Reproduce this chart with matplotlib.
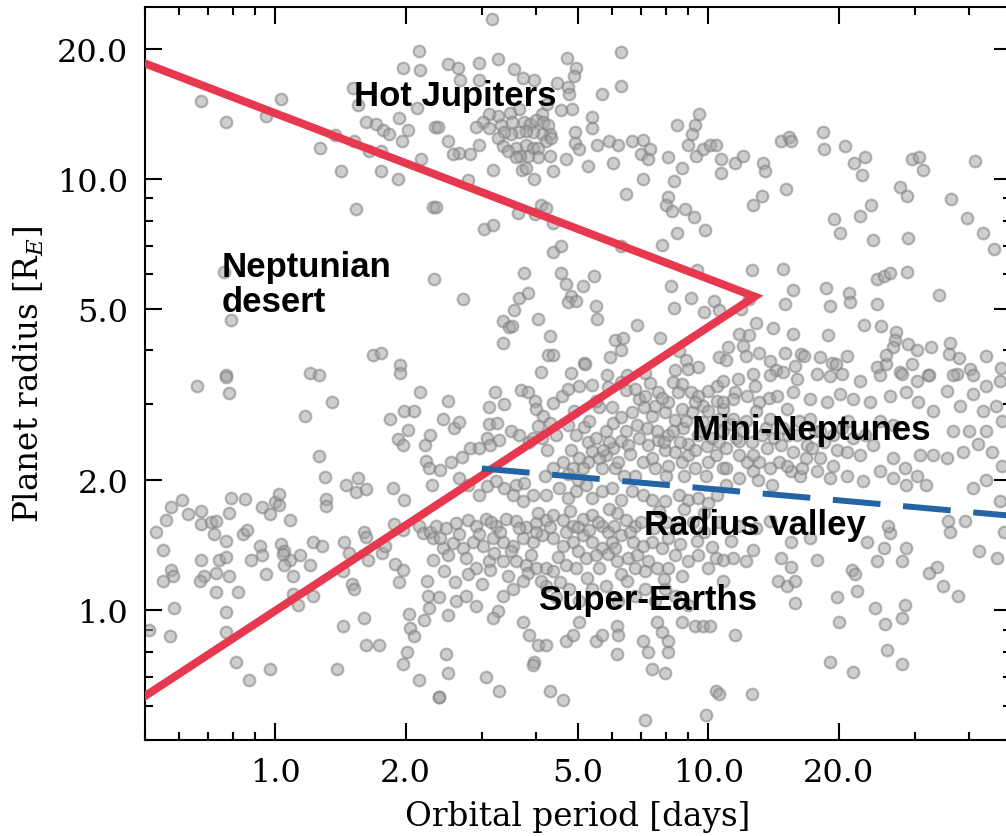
import matplotlib
matplotlib.use("Agg")
import matplotlib.pyplot as plt
import numpy as np
from matplotlib.ticker import FixedLocator, FormatStrFormatter, LogLocator, NullFormatter

# (orbital period [days], planet radius [R_E]), grouped by region
giants_short = [
    (2.15, 19.8), (1.97, 18.1), (2.16, 17.9), (1.51, 16.2), (1.55, 14.8), (2.12, 14.6),
    (0.675, 15.1), (0.77, 13.5), (0.95, 14.0), (1.03, 15.3), (1.37, 12.6), (1.27, 11.8),
    (1.52, 12.2), (1.62, 13.5), (1.71, 13.4), (1.77, 13.0), (1.83, 12.7), (1.93, 13.8),
    (2.03, 13.0), (1.65, 11.6), (1.75, 11.6), (1.96, 12.2), (2.17, 11.1), (2.34, 13.2),
    (1.42, 10.4), (1.75, 10.4), (1.92, 10.0), (1.54, 8.5), (2.31, 8.6), (0.76, 6.07),
    (2.33, 5.85), (0.79, 4.7), (1.68, 3.9), (1.75, 3.95), (1.94, 3.7), (1.94, 3.54),
    (0.77, 3.5), (1.20, 3.54), (1.26, 3.5),
]

hot_jupiters = [
    (3.16, 23.5), (6.27, 19.7), (2.51, 18.4), (2.64, 18.1), (2.95, 18.5), (3.26, 18.9),
    (3.56, 18.0), (4.72, 19.0), (4.94, 18.1), (4.89, 17.3), (6.27, 16.4), (5.68, 15.7),
    (2.67, 16.9), (2.95, 16.9), (3.73, 17.1), (3.95, 16.9), (4.48, 16.7), (4.73, 16.3),
    (4.76, 15.7), (4.84, 14.5), (4.58, 14.4), (4.25, 14.9), (4.12, 14.1), (3.66, 14.5),
    (3.48, 14.2), (3.26, 14.0), (3.11, 14.1), (3.02, 13.5), (2.90, 13.2), (3.11, 13.1),
    (3.32, 13.3), (3.52, 13.5), (3.75, 13.5), (3.87, 13.4), (4.01, 13.7), (4.16, 13.5),
    (4.27, 13.3), (4.32, 12.7), (4.12, 12.7), (3.93, 12.8), (3.79, 12.9), (3.66, 12.8),
    (3.50, 12.7), (3.37, 12.8), (3.26, 12.4), (3.35, 11.9), (3.59, 11.8), (3.79, 12.0),
    (3.93, 11.8), (4.05, 11.8), (4.21, 12.2), (4.34, 12.4), (4.30, 11.3), (4.05, 11.2),
    (3.84, 11.3), (3.68, 11.3), (3.59, 11.2), (3.44, 11.6), (2.95, 12.0), (2.82, 11.4),
    (2.65, 11.5), (2.51, 12.2), (2.38, 13.2), (2.57, 11.4), (3.19, 10.5), (3.72, 10.5),
    (3.79, 10.6), (3.95, 10.0), (4.39, 10.4), (2.79, 9.95), (4.68, 11.1), (4.91, 12.8),
    (4.91, 12.1), (5.02, 11.7), (5.27, 10.7), (5.40, 13.9), (5.40, 13.1), (5.52, 12.0),
    (5.91, 12.2), (6.20, 12.0), (6.04, 10.9), (6.68, 12.2), (7.05, 12.3), (7.0, 11.4),
    (7.35, 11.7), (7.27, 11.1), (7.05, 10.0), (6.47, 9.2), (8.09, 11.2), (8.48, 13.3),
    (8.70, 10.6), (8.35, 9.9), (9.0, 12.0), (9.5, 14.1), (9.33, 13.3), (9.19, 12.7),
    (9.38, 11.3), (9.72, 11.7), (10.1, 12.0), (10.4, 12.0), (10.7, 11.1), (10.7, 10.3),
    (8.09, 9.05), (8.0, 8.67), (8.25, 8.42), (8.85, 8.52), (9.28, 8.15), (9.84, 7.6),
    (8.48, 7.5), (7.83, 7.03),
]

warm_intermediate = [
    (9.43, 6.13), (8.2, 5.65), (9.1, 5.3), (8.35, 5.02), (10.3, 5.2), (9.79, 4.9),
    (10.6, 4.95), (3.63, 8.33), (3.97, 8.3), (4.10, 8.67), (4.21, 8.57), (4.39, 7.9),
    (3.03, 7.66), (3.18, 7.8), (2.35, 8.6), (4.37, 6.78), (4.58, 7.0), (6.27, 7.0),
    (3.75, 6.06), (4.58, 6.03), (4.68, 5.7), (5.13, 5.65), (5.46, 5.96), (2.72, 5.25),
    (3.66, 5.28), (3.83, 5.44), (3.56, 4.97), (4.81, 5.36), (4.73, 5.19), (4.94, 5.21),
    (5.49, 5.06), (5.52, 4.74), (4.05, 4.74), (3.35, 4.67), (3.46, 4.54), (3.52, 4.56),
    (4.32, 4.31), (3.35, 4.15), (4.27, 3.91), (4.37, 3.91), (5.16, 3.74), (5.18, 3.71),
    (4.10, 3.57), (4.81, 3.55), (6.10, 4.22), (6.37, 4.28), (6.27, 4.01), (5.94, 3.87),
    (6.86, 4.59), (7.75, 4.28), (8.57, 3.98), (8.90, 3.79), (9.0, 3.63), (9.47, 3.67),
    (8.39, 3.61), (10.6, 3.87), (7.16, 3.55), (5.85, 3.51),
]

long_period_large = [
    (18.4, 12.8), (18.5, 11.7), (14.7, 12.2), (15.4, 12.5), (15.5, 12.2), (20.7, 11.9),
    (11.5, 10.9), (12.0, 11.3), (13.4, 10.9), (13.5, 10.4), (21.7, 10.9), (23.0, 11.2),
    (22.6, 10.2), (29.5, 11.1), (30.6, 11.2), (31.4, 10.5), (41.4, 11.0), (15.1, 9.48),
    (13.3, 9.14), (12.7, 8.67), (27.7, 9.57), (28.8, 9.14), (36.3, 8.95), (39.5, 8.12),
    (43.0, 7.47), (45.8, 6.89), (19.5, 8.08), (20.2, 7.47), (22.4, 8.2), (23.8, 8.67),
    (24.0, 7.22), (29.0, 7.3), (12.6, 6.13), (14.9, 6.19), (15.7, 5.53), (15.0, 5.12),
    (18.7, 5.59), (19.1, 5.06), (21.1, 5.42), (21.3, 5.19), (24.5, 5.84), (25.4, 5.96),
    (26.3, 6.06), (28.8, 6.09), (24.5, 5.12), (34.1, 5.37), (12.4, 5.25), (11.9, 5.0),
    (12.9, 4.64), (14.1, 4.5), (15.7, 4.36), (18.9, 4.34), (22.9, 4.59), (25.0, 4.56),
    (27.1, 4.42), (27.0, 4.22), (26.7, 4.08), (29.0, 4.13), (30.3, 4.01), (32.7, 4.08),
    (36.2, 4.15), (36.0, 3.93), (38.0, 3.85), (43.7, 3.89), (47.5, 3.65), (11.8, 4.36),
    (12.4, 4.34), (12.0, 4.10), (12.2, 3.89), (11.1, 4.08), (11.0, 3.81), (13.1, 3.95),
    (13.9, 3.77), (14.3, 3.61), (15.0, 3.95), (16.4, 3.93), (16.6, 3.89), (15.9, 3.69),
    (18.1, 3.87), (19.3, 3.74), (19.7, 3.72), (20.9, 3.89), (24.5, 3.67), (25.7, 3.72),
    (25.7, 3.91), (27.7, 3.57), (29.5, 3.72), (32.1, 3.51), (37.5, 3.53), (40.2, 3.63),
]

ultra_short_small = [
    (0.66, 3.31), (0.77, 3.47), (0.78, 3.19), (2.16, 3.21), (1.35, 3.04), (1.17, 2.82),
    (1.84, 2.77), (1.98, 2.90), (2.09, 2.89), (2.02, 2.62), (1.92, 2.49), (1.97, 2.42),
    (2.22, 2.42), (2.28, 2.55), (2.23, 2.22), (2.26, 2.14), (1.26, 2.28), (1.30, 2.04),
    (1.46, 1.95), (1.55, 2.02), (1.54, 1.88), (1.62, 1.91), (1.87, 1.92), (1.98, 1.80),
    (2.30, 1.95), (1.31, 1.81), (1.31, 1.74), (0.61, 1.80), (0.575, 1.73), (0.56, 1.62),
    (0.53, 1.52), (0.63, 1.67), (0.675, 1.70), (0.675, 1.58), (0.71, 1.60), (0.73, 1.61),
    (0.72, 1.50), (0.79, 1.82), (0.85, 1.81), (0.78, 1.68), (0.77, 1.45), (0.93, 1.73),
    (0.97, 1.67), (1.0, 1.78), (1.02, 1.86), (1.02, 1.75), (1.08, 1.62), (0.84, 1.50),
    (0.86, 1.53), (0.92, 1.41), (0.93, 1.34), (1.03, 1.42), (1.05, 1.37), (1.08, 1.31),
    (1.05, 1.27), (1.04, 1.35), (1.14, 1.34), (1.22, 1.44), (1.28, 1.41), (1.20, 1.27),
    (0.55, 1.38), (0.575, 1.24), (0.58, 1.20), (0.55, 1.17), (0.675, 1.31), (0.74, 1.31),
    (0.77, 1.33), (0.685, 1.20), (0.67, 1.17), (0.73, 1.22), (0.78, 1.20), (0.73, 1.10),
    (0.82, 1.10), (0.95, 1.21), (0.88, 1.31), (1.10, 1.20), (1.10, 1.09), (1.13, 1.03),
    (1.22, 1.08), (1.43, 1.23), (1.50, 1.15), (1.52, 1.12), (1.44, 1.44), (1.48, 1.36),
    (1.60, 1.52), (1.62, 1.48), (1.64, 1.31), (1.76, 1.36), (1.79, 1.41), (1.88, 1.58),
    (1.97, 1.53), (1.89, 1.28), (1.97, 1.24), (1.93, 1.16), (2.15, 1.57), (2.19, 1.51),
    (2.28, 1.52), (2.31, 1.47), (2.31, 1.31), (2.24, 1.17), (2.25, 1.08), (2.26, 1.01),
    (0.585, 1.01), (0.57, 0.87), (0.51, 0.90), (0.77, 0.99), (0.77, 0.89), (0.81, 0.76),
    (0.87, 0.69), (0.97, 0.73), (1.43, 0.92), (1.60, 0.96), (1.62, 0.83), (1.74, 0.83),
    (1.39, 0.73), (2.04, 0.98), (2.05, 0.91), (2.09, 0.87), (2.01, 0.80), (1.97, 0.75),
    (2.20, 0.95), (2.15, 0.69), (2.39, 0.63),
]

sub_neptunes = [
    (6.5, 3.51), (2.51, 3.06), (3.21, 3.21), (3.11, 2.95), (3.37, 3.0), (3.69, 3.23),
    (3.83, 3.21), (3.97, 3.05), (4.37, 3.02), (4.60, 3.13), (4.74, 3.26), (5.02, 3.31),
    (5.40, 3.33), (5.88, 3.29), (6.27, 3.38), (6.47, 3.24), (6.93, 3.09), (7.35, 3.36),
    (7.67, 3.21), (8.30, 3.38), (8.70, 3.35), (9.10, 3.21), (9.47, 3.13), (10.0, 3.22),
    (10.5, 3.31), (10.5, 3.05), (9.7, 2.97), (2.44, 2.78), (2.58, 2.65), (2.65, 2.73),
    (2.82, 2.38), (2.95, 2.37), (3.09, 2.51), (3.14, 2.41), (3.29, 2.48), (3.50, 2.60),
    (3.66, 2.55), (3.85, 2.45), (2.54, 2.20), (2.70, 2.26), (2.40, 2.11), (3.11, 2.70),
    (3.25, 2.71), (3.99, 2.93), (4.16, 2.82), (4.32, 2.71), (4.05, 2.67), (3.93, 2.50),
    (4.14, 2.50), (4.25, 2.35), (4.73, 2.68), (4.94, 2.55), (5.16, 2.66), (4.81, 2.35),
    (5.27, 2.45), (5.49, 2.50), (5.79, 2.60), (6.04, 2.71), (6.30, 2.81), (6.68, 2.88),
    (7.09, 2.96), (7.43, 2.82), (6.86, 2.68), (6.47, 2.60), (6.30, 2.47), (6.04, 2.38),
    (5.79, 2.29), (5.58, 2.25), (5.40, 2.34), (5.27, 2.21), (5.02, 2.25), (4.86, 2.13),
    (4.73, 2.07), (7.96, 2.88), (8.39, 2.76), (8.76, 2.64), (8.09, 2.55), (7.67, 2.48),
    (7.96, 2.35), (8.39, 2.33), (9.0, 2.43), (9.47, 2.55), (9.93, 2.40), (10.4, 2.29),
    (10.8, 2.60), (10.6, 2.78), (9.7, 2.73), (9.19, 2.88), (6.79, 3.26), (7.16, 3.14),
    (7.55, 2.98), (8.09, 3.04), (8.70, 2.93), (9.33, 3.04), (10.0, 2.89), (10.8, 2.93),
    (6.51, 2.41), (7.05, 2.21), (7.55, 2.13), (8.09, 2.16), (8.70, 2.21), (9.33, 2.13),
    (10.0, 2.21), (10.8, 2.13), (9.0, 2.29), (7.27, 2.41), (6.79, 2.05), (6.10, 2.13),
    (5.68, 2.13), (5.13, 2.13), (4.61, 2.21), (4.37, 2.13),
]

# crowded core of the mini-Neptune clump
mini_neptune_core = [
    (4.45, 2.55), (4.9, 2.9), (5.3, 2.75), (5.6, 2.95), (5.9, 2.45), (6.2, 2.2),
    (6.6, 2.3), (6.9, 2.5), (7.2, 2.65), (7.6, 2.6), (7.9, 2.45), (8.3, 2.6),
    (8.6, 2.45), (8.9, 2.75), (9.3, 2.35), (9.6, 2.6), (10.2, 2.5), (10.6, 2.45),
    (11.2, 2.7), (11.6, 2.5), (12.2, 2.75), (12.6, 2.45), (13.1, 2.2), (13.6, 2.65),
    (14.2, 2.5), (14.6, 2.2), (15.3, 2.55), (16.2, 2.75), (16.8, 2.25), (17.6, 2.6),
    (18.5, 2.45), (19.8, 2.35), (21.0, 2.75), (23.0, 2.55), (5.5, 3.05), (6.0, 2.95),
    (7.8, 3.1), (8.5, 3.2), (11.5, 3.2), (12.8, 3.3), (13.8, 3.1), (4.2, 2.05),
    (5.0, 2.0), (5.7, 2.35), (6.4, 2.05), (7.4, 2.25), (8.0, 2.05), (8.8, 2.05),
    (9.9, 2.05), (11.0, 1.95), (12.3, 2.2), (13.0, 2.0), (14.0, 1.95), (15.5, 2.1),
]

valley_edge = [
    (3.59, 1.95), (3.75, 1.97), (3.93, 1.85), (3.73, 1.79), (3.54, 1.85), (3.37, 1.92),
    (3.23, 1.99), (3.09, 1.94), (2.95, 1.85), (2.79, 1.95), (2.65, 2.02), (4.21, 1.85),
    (4.51, 1.92), (4.73, 1.82), (4.94, 1.89), (5.21, 1.95), (5.40, 1.82), (5.68, 1.89),
    (6.0, 1.92), (6.27, 1.80), (6.68, 1.89), (7.05, 1.85), (7.43, 1.80), (7.96, 1.79),
    (8.57, 1.85), (9.0, 1.80), (9.47, 1.82), (10.0, 1.77), (10.5, 1.85),
]

super_earths = [
    (2.35, 1.57), (2.48, 1.55), (2.61, 1.59), (2.78, 1.62), (2.90, 1.57), (3.06, 1.63),
    (3.23, 1.57), (3.41, 1.63), (3.59, 1.61), (3.79, 1.56), (3.99, 1.59), (4.21, 1.62),
    (4.39, 1.66), (4.61, 1.62), (4.86, 1.57), (5.13, 1.63), (5.40, 1.66), (5.68, 1.57),
    (5.88, 1.52), (6.17, 1.68), (6.47, 1.62), (6.79, 1.57), (6.30, 1.49), (6.0, 1.44),
    (5.68, 1.39), (5.40, 1.44), (5.13, 1.49), (4.86, 1.44), (4.61, 1.41), (4.37, 1.47),
    (4.14, 1.49), (3.93, 1.44), (3.73, 1.47), (3.54, 1.41), (3.35, 1.44), (3.18, 1.47),
    (3.02, 1.41), (2.86, 1.44), (2.71, 1.39), (2.57, 1.43), (2.44, 1.39), (2.40, 1.47),
    (2.51, 1.34), (2.75, 1.32), (2.90, 1.25), (2.79, 1.21), (3.11, 1.30), (3.14, 1.24),
    (3.35, 1.30), (3.59, 1.30), (3.79, 1.27), (3.83, 1.22), (3.99, 1.25), (4.21, 1.25),
    (4.39, 1.23), (4.68, 1.27), (4.94, 1.25), (5.21, 1.32), (5.49, 1.34), (5.88, 1.35),
    (6.17, 1.30), (6.51, 1.32), (6.86, 1.34), (7.24, 1.30), (7.16, 1.23), (6.79, 1.25),
    (6.30, 1.21), (8.39, 1.34), (9.0, 1.30), (9.47, 1.34), (10.0, 1.25), (10.4, 1.32),
    (8.09, 1.25), (7.83, 1.39), (7.43, 1.44), (7.05, 1.41), (8.09, 1.47),
    (2.48, 0.79), (2.50, 0.715), (2.39, 0.63), (3.06, 0.70), (3.29, 0.65), (4.32, 0.65),
    (4.63, 0.62), (7.16, 0.557), (9.89, 0.571), (10.4, 0.65), (3.26, 0.995), (3.18, 0.96),
    (3.73, 0.94), (3.85, 0.875), (4.05, 0.83), (4.21, 0.83), (3.95, 0.76), (3.93, 0.745),
    (4.68, 0.85), (4.86, 0.875), (5.02, 0.94), (5.49, 0.85), (5.68, 0.875), (6.17, 0.92),
    (6.20, 0.875), (6.17, 0.79), (7.05, 0.85), (7.27, 0.80), (7.63, 0.94), (7.83, 0.89),
    (8.09, 0.85), (8.09, 0.80), (8.70, 0.94), (9.33, 0.92), (9.7, 0.92), (10.1, 0.92),
    (7.43, 0.73), (7.96, 0.715), (2.90, 1.02), (2.61, 1.05), (2.75, 1.08), (2.51, 0.975),
    (2.39, 1.07), (3.35, 1.08), (3.54, 1.12), (3.73, 1.17), (4.21, 1.14), (4.44, 1.07),
    (4.76, 1.12), (5.02, 1.05), (5.40, 1.12), (5.79, 1.14), (6.20, 1.05), (6.79, 1.08),
    (7.16, 1.12), (7.55, 1.05), (7.96, 1.12), (8.39, 1.08), (9.0, 1.03),
]

# crowded core of the super-Earth clump
super_earth_core = [
    (3.3, 1.52), (3.65, 1.55), (4.0, 1.52), (4.3, 1.56), (4.7, 1.52), (5.0, 1.56),
    (5.3, 1.53), (5.55, 1.6), (6.05, 1.57), (6.6, 1.52), (7.0, 1.6), (7.5, 1.55),
    (8.0, 1.6), (8.5, 1.55), (9.2, 1.6), (9.8, 1.52), (10.6, 1.6), (11.3, 1.45),
    (3.2, 1.36), (3.5, 1.37), (3.9, 1.34), (4.5, 1.33), (5.0, 1.37), (5.6, 1.25),
    (6.1, 1.39), (6.7, 1.44), (7.6, 1.25), (8.6, 1.42), (9.4, 1.45), (10.2, 1.4),
    (2.65, 1.5), (2.95, 1.5), (3.15, 1.6), (4.05, 1.68), (4.8, 1.7), (5.9, 1.72),
    (7.7, 1.7), (8.8, 1.72), (9.8, 1.68), (2.45, 1.23), (2.6, 1.16), (3.0, 1.15),
    (3.45, 1.2), (4.1, 1.17), (4.55, 1.16), (5.25, 1.19), (6.5, 1.17), (7.9, 1.18),
    (8.7, 1.2),
]

mini_neptunes_long = [
    (10.8, 3.39), (11.7, 3.44), (12.7, 3.53), (13.9, 3.50), (14.9, 3.57), (16.0, 3.44),
    (17.8, 3.53), (19.1, 3.48), (20.4, 3.53), (22.4, 3.39), (24.9, 3.50), (28.0, 3.53),
    (30.3, 3.39), (32.4, 3.50), (36.7, 3.50), (40.8, 3.50), (43.9, 3.31), (47.2, 3.39),
    (11.4, 3.09), (12.3, 3.14), (13.1, 3.04), (14.4, 3.14), (15.7, 3.21), (17.2, 3.09),
    (18.8, 3.04), (20.1, 3.17), (21.6, 3.09), (23.6, 3.04), (26.3, 3.14), (28.6, 3.21),
    (30.5, 3.04), (33.0, 2.89), (35.5, 3.22), (38.1, 2.98), (40.8, 3.17), (43.0, 2.89),
    (46.3, 2.98), (47.8, 2.74), (11.0, 2.37), (11.8, 2.46), (12.7, 2.29), (13.7, 2.37),
    (14.7, 2.41), (15.7, 2.33), (16.9, 2.41), (18.1, 2.25), (19.4, 2.16), (20.9, 2.33),
    (22.4, 2.29), (24.0, 2.41), (26.7, 2.25), (28.4, 2.13), (30.3, 2.05), (31.9, 1.95),
    (30.8, 2.29), (33.0, 2.29), (35.5, 2.25), (38.7, 2.33), (41.9, 2.43), (45.3, 2.33),
    (47.8, 2.16), (11.0, 2.13), (11.8, 2.02), (12.7, 2.10), (13.9, 2.13), (15.2, 2.16),
    (16.3, 2.05), (17.8, 2.10), (19.1, 2.02), (20.9, 2.05), (22.8, 1.99), (24.9, 2.10),
    (26.7, 2.02), (28.6, 1.95), (40.8, 1.92), (43.9, 2.0), (47.2, 1.79), (36.7, 2.60),
    (40.1, 2.60), (43.9, 2.60), (24.9, 2.74), (26.7, 2.68), (10.8, 3.04), (11.4, 2.78),
    (12.0, 2.60), (12.9, 2.89), (13.9, 2.78), (14.9, 2.64), (16.0, 2.55), (17.2, 2.78),
    (18.1, 2.60), (19.4, 2.55), (20.4, 2.64), (21.6, 2.50), (16.5, 2.13), (13.3, 2.55),
    (11.8, 2.29), (15.2, 2.93), (17.4, 2.37),
]

long_period_small = [
    (35.7, 1.61), (36.2, 1.52), (39.1, 1.61), (42.1, 1.37), (46.5, 1.32), (48.3, 1.52),
    (26.3, 1.51), (26.0, 1.57), (23.3, 1.44), (24.5, 1.30), (25.4, 1.39), (28.0, 1.30),
    (28.6, 1.39), (21.5, 1.24), (21.8, 1.21), (22.1, 1.11), (19.8, 1.07), (20.0, 0.94),
    (24.3, 1.01), (25.6, 0.93), (28.0, 0.96), (28.4, 1.03), (32.4, 1.22), (33.8, 1.26),
    (34.8, 1.14), (37.7, 1.08), (17.8, 1.31), (17.2, 1.47), (15.5, 1.44), (14.7, 1.32),
    (15.5, 1.26), (14.5, 1.17), (15.2, 1.14), (15.9, 1.17), (15.9, 1.04), (12.7, 1.38),
    (11.4, 1.32), (12.2, 1.30), (10.8, 1.31), (10.8, 1.17), (11.5, 0.875), (12.6, 0.64),
    (19.1, 0.76), (21.6, 0.72), (25.9, 0.81), (28.0, 0.75), (10.6, 0.64), (13.9, 1.61),
    (12.9, 1.55), (11.8, 1.57),
]

groups = [giants_short, hot_jupiters, warm_intermediate, long_period_large,
          ultra_short_small, sub_neptunes, mini_neptune_core, valley_edge,
          super_earths, super_earth_core, mini_neptunes_long, long_period_small]
period = np.array([p for g in groups for p, r in g])
radius = np.array([r for g in groups for p, r in g])

# Neptunian desert boundary and radius valley
desert_period = [0.5, 12.8, 0.5]
desert_radius = [18.5, 5.33, 0.632]
valley_period = [3.0, 50.0]
valley_radius = [2.13, 1.655]

tick_values = [1.0, 2.0, 5.0, 10.0, 20.0]

plt.rcParams["font.family"] = "DejaVu Serif"
plt.rcParams["mathtext.fontset"] = "dejavuserif"

fig = plt.figure(figsize=(10.06, 8.37), dpi=100)
ax = fig.add_axes([0.1441, 0.1147, 0.8608, 0.8757])

ax.scatter(period, radius, s=70, facecolor="#a6a6a6", edgecolor="#7f7f7f",
           linewidth=1.6, alpha=0.55, zorder=2)
ax.plot(desert_period, desert_radius, color="#e8384f", lw=5.8,
        solid_joinstyle="miter", zorder=3)
ax.plot(valley_period, valley_radius, color="#2364a4", lw=4.3,
        dashes=(8, 3.8), dash_capstyle="butt", zorder=3)

ax.set_xscale("log")
ax.set_yscale("log")
ax.set_xlim(0.5, 50)
ax.set_ylim(0.5, 25)

for axis in (ax.xaxis, ax.yaxis):
    axis.set_major_locator(FixedLocator(tick_values))
    axis.set_major_formatter(FormatStrFormatter("%.1f"))
    axis.set_minor_locator(LogLocator(base=10, subs=np.arange(2, 10), numticks=20))
    axis.set_minor_formatter(NullFormatter())

ax.tick_params(which="both", direction="in", top=True, right=True, width=1.5,
               labelsize=23, pad=12)
ax.tick_params(which="major", length=12)
ax.tick_params(which="minor", length=5.5)
for sp in ax.spines.values():
    sp.set_linewidth(1.5)

ax.set_xlabel("Orbital period [days]", fontsize=23.5, labelpad=9)
ax.set_ylabel(r"Planet radius [R$_E$]", fontsize=23.5, labelpad=8)

label_font = dict(family="Liberation Sans", weight="bold", fontsize=25, zorder=4)
ax.text(2.61, 15.6, "Hot Jupiters", ha="center", va="center", **label_font)
ax.text(0.753, 5.7, "Neptunian\ndesert", ha="left", va="center", linespacing=1.05,
        **label_font)
ax.text(17.3, 2.62, "Mini-Neptunes", ha="center", va="center", **label_font)
ax.text(12.8, 1.58, "Radius valley", ha="center", va="center", **label_font)
ax.text(7.26, 1.06, "Super-Earths", ha="center", va="center", **label_font)

fig.savefig("out.png", dpi=100)
